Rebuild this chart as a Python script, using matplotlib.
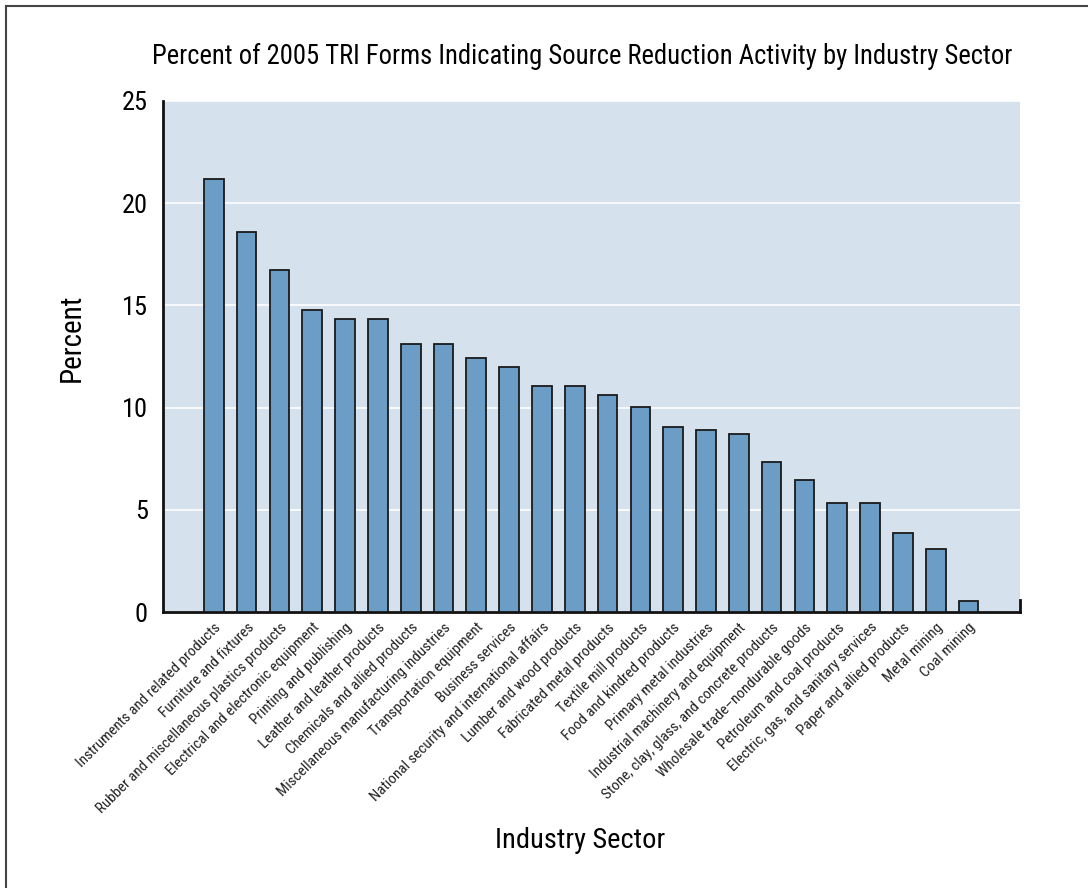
import matplotlib.pyplot as plt
from matplotlib.lines import Line2D

sectors = [
    "Instruments and related products",
    "Furniture and fixtures",
    "Rubber and miscellaneous plastics products",
    "Electrical and electronic equipment",
    "Printing and publishing",
    "Leather and leather products",
    "Chemicals and allied products",
    "Miscellaneous manufacturing industries",
    "Transportation equipment",
    "Business services",
    "National security and international affairs",
    "Lumber and wood products",
    "Fabricated metal products",
    "Textile mill products",
    "Food and kindred products",
    "Primary metal industries",
    "Industrial machinery and equipment",
    "Stone, clay, glass, and concrete products",
    "Wholesale trade\u2013nondurable goods",
    "Petroleum and coal products",
    "Electric, gas, and sanitary services",
    "Paper and allied products",
    "Metal mining",
    "Coal mining",
]
percent = [21.2, 18.6, 16.75, 14.75, 14.35, 14.35, 13.1, 13.1, 12.45, 12.0,
           11.05, 11.05, 10.6, 10.05, 9.05, 8.9, 8.7, 7.35, 6.45, 5.35,
           5.35, 3.85, 3.1, 0.55]
yticks = [0, 5, 10, 15, 20, 25]

plt.rcParams['font.family'] = ['Roboto Condensed', 'Roboto', 'DejaVu Sans']

fig = plt.figure(figsize=(10.88, 8.88), dpi=100)
ax = fig.add_axes([0.1498, 0.3108, 0.7877, 0.5755])
ax.set_facecolor('#d6e1ee')

x = list(range(len(sectors)))
ax.bar(x, percent, width=0.6, color='#6b9dc6', edgecolor='#1a1a1a',
       linewidth=1.3, zorder=3)

ax.set_xlim(-1.55, 24.57)
ax.set_ylim(0, 25)
ax.set_yticks(yticks)
ax.set_yticklabels([str(v) for v in yticks], fontsize=19)
ax.tick_params(axis='y', length=0, pad=11)
ax.grid(axis='y', color='white', linewidth=1.2, zorder=1)

ax.set_xticks(x)
ax.set_xticklabels(sectors, rotation=45, ha='right', rotation_mode='anchor',
                   fontsize=10.8, color='#222222')
ax.tick_params(axis='x', length=0, pad=6)

ax.spines['top'].set_visible(False)
ax.spines['right'].set_bounds(0, 0.6)
for s in ['left', 'bottom', 'right']:
    ax.spines[s].set_linewidth(2)
    ax.spines[s].set_color('#111111')

ax.set_ylabel('Percent', fontsize=21)
ax.yaxis.set_label_coords(-0.09, 0.536)
fig.text(0.533, 0.054, 'Industry Sector', ha='center', va='center', fontsize=20.5)
fig.text(0.535, 0.936, 'Percent of 2005 TRI Forms Indicating Source Reduction Activity by Industry Sector',
         ha='center', va='center', fontsize=19.2)

# outer frame (left and top edges)
fig.add_artist(Line2D([0.0055, 0.0055], [0, 0.9935], transform=fig.transFigure,
                      color='#444444', linewidth=1.5))
fig.add_artist(Line2D([0.0055, 1.0], [0.9935, 0.9935], transform=fig.transFigure,
                      color='#444444', linewidth=1.5))

fig.savefig('out.png', dpi=100)
